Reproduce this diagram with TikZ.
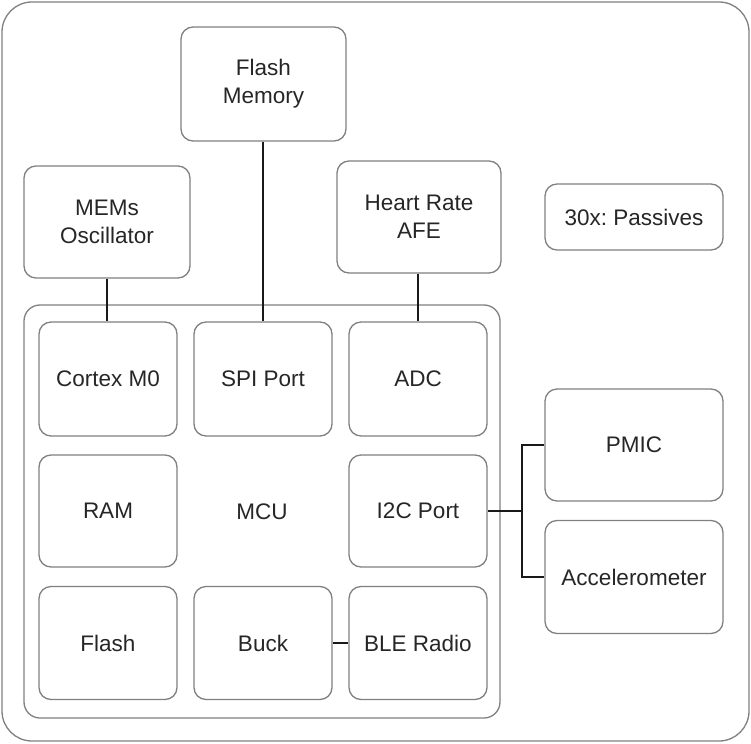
\documentclass[tikz,border=0pt]{standalone}
\usepackage{fontspec}
\setmainfont{Liberation Sans}
\frenchspacing
\begin{document}
\begin{tikzpicture}[x=1pt,y=-1pt,
  box/.style={draw=black!50,line width=1.3pt,rounded corners=12pt,align=center,
    font=\fontsize{22.5}{28}\selectfont,text=black!85,inner sep=0pt},
  conn/.style={draw=black!90,line width=1.8pt}]
\useasboundingbox (0,0) rectangle (751,743);
\draw[draw=black!50,line width=1.3pt,rounded corners=30pt] (2,2) rectangle (749,741);
\node[box,rounded corners=16pt,minimum width=476pt,minimum height=413pt] (mcu) at (262,511.5) {MCU};
\node[box,minimum width=165pt,minimum height=114pt] (flashmem) at (263.5,84) {Flash\\Memory};
\node[box,minimum width=166pt,minimum height=112pt] (mems) at (107,222) {MEMs\\Oscillator};
\node[box,minimum width=164pt,minimum height=112pt] (hr) at (419,217) {Heart Rate\\AFE};
\node[box,minimum width=178pt,minimum height=66pt] (pass) at (634,217) {30x:\ Passives};
\node[box,minimum width=138pt,minimum height=114pt] (cortex) at (108,379) {Cortex M0};
\node[box,minimum width=138pt,minimum height=114pt] (spi) at (263,379) {SPI Port};
\node[box,minimum width=138pt,minimum height=114pt] (adc) at (418,379) {ADC};
\node[box,minimum width=138pt,minimum height=112pt] (ram) at (108,511) {RAM};
\node[box,minimum width=138pt,minimum height=112pt] (i2c) at (418,511) {I2C Port};
\node[box,minimum width=138pt,minimum height=113pt] (flash) at (108,643) {Flash};
\node[box,minimum width=138pt,minimum height=113pt] (buck) at (263,643) {Buck};
\node[box,minimum width=138pt,minimum height=113pt] (ble) at (418,643) {BLE Radio};
\node[box,minimum width=178pt,minimum height=112pt] (pmic) at (634,445) {PMIC};
\node[box,minimum width=178pt,minimum height=113pt] (acc) at (634,577) {Accelerometer};
\coordinate (j) at (522,511);
\draw[conn] (mems.south) -- (mems.south |- cortex.north);
\draw[conn] (flashmem.south -| spi.north) -- (spi.north);
\draw[conn] (hr.south -| adc.north) -- (adc.north);
\draw[conn] (buck.east) -- (ble.west);
\draw[conn] (i2c.east) -- (j);
\draw[conn] (pmic.west) -| (j) |- (acc.west);
\end{tikzpicture}
\end{document}
